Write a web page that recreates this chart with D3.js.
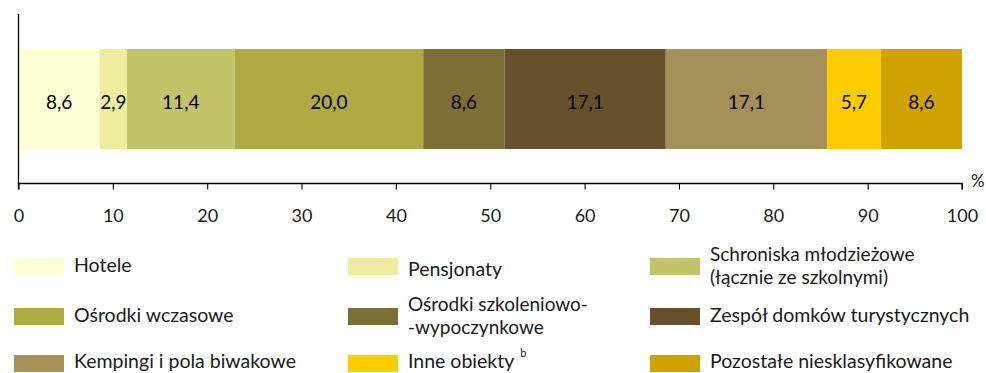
<!DOCTYPE html>
<html>
<head>
<meta charset="utf-8">
<script src="https://cdn.jsdelivr.net/npm/d3@7/dist/d3.min.js"></script>
<style>
  html, body { margin: 0; padding: 0; background: #fff; }
  svg { display: block; }
  text { font-family: Lato, "Open Sans", sans-serif; fill: #1a1a1a; }
</style>
</head>
<body>
<div id="chart"></div>
<script>
// Accommodation structure by type of establishment (%)
const categories = [
  "Hotele",
  "Pensjonaty",
  "Schroniska młodzieżowe (łącznie ze szkolnymi)",
  "Ośrodki wczasowe",
  "Ośrodki szkoleniowo- -wypoczynkowe",
  "Zespół domków turystycznych",
  "Kempingi i pola biwakowe",
  "Inne obiekty",
  "Pozostałe niesklasyfikowane"
];
const shares = [8.6, 2.9, 11.4, 20.0, 8.6, 17.1, 17.1, 5.7, 8.6];
const colors = ["#ffffd5", "#f0ec9e", "#c3c36a", "#aeaa44", "#7c6f33", "#67512a", "#a58f5a", "#ffcc00", "#d1a300"];
const tickValues = [0, 10, 20, 30, 40, 50, 60, 70, 80, 90, 100];
// Legend text split into lines, and superscript notes
const legendLines = [
  ["Hotele"],
  ["Pensjonaty"],
  ["Schroniska młodzieżowe", "(łącznie ze szkolnymi)"],
  ["Ośrodki wczasowe"],
  ["Ośrodki szkoleniowo-", "-wypoczynkowe"],
  ["Zespół domków turystycznych"],
  ["Kempingi i pola biwakowe"],
  ["Inne obiekty"],
  ["Pozostałe niesklasyfikowane"]
];
const legendNotes = ["", "", "", "", "", "", "", "b", ""];

const W = 986, H = 373;
const svg = d3.select("#chart").append("svg").attr("width", W).attr("height", H);

const x = d3.scaleLinear().domain([0, 100]).range([18.5, 962]);
const barTop = 49, barH = 100;

// stacked segments
let acc = 0;
const segs = shares.map((v, i) => {
  const s = { i, v, x0: acc, x1: acc + v };
  acc += v;
  return s;
});

svg.append("g").selectAll("rect").data(segs).join("rect")
  .attr("x", d => x(d.x0))
  .attr("width", d => x(d.x1) - x(d.x0))
  .attr("y", barTop)
  .attr("height", barH)
  .attr("fill", d => colors[d.i]);

svg.append("g").selectAll("text").data(segs).join("text")
  .attr("x", d => (x(d.x0) + x(d.x1)) / 2)
  .attr("y", barTop + 60)
  .attr("text-anchor", "middle")
  .style("font-size", "19px")
  .style("fill", "#000")
  .text(d => d.v.toFixed(1).replace(".", ","));

// vertical axis line
svg.append("line")
  .attr("x1", x(0)).attr("x2", x(0))
  .attr("y1", 14).attr("y2", 184)
  .attr("stroke", "#000").attr("stroke-width", 1.3);

// horizontal axis
const axis = d3.axisBottom(x).tickValues(tickValues).tickSize(6).tickPadding(20).tickFormat(d3.format("d"));
const gx = svg.append("g").attr("transform", "translate(0,183.5)").call(axis);
gx.select(".domain").attr("stroke", "#000").attr("stroke-width", 1.3).attr("d", `M${x(0)},6V0H${x(100)}V6`);
gx.selectAll(".tick line").attr("stroke", "#000").attr("stroke-width", 1.1);
gx.selectAll(".tick text")
  .style("font-family", "Lato, sans-serif")
  .style("font-size", "18px")
  .attr("fill", "#1a1a1a");

svg.append("text")
  .attr("x", 971).attr("y", 187)
  .style("font-size", "17px")
  .text("%");

// legend: 3 columns x 3 rows
const colX = [14, 348, 650];
const swatchY = [258, 308, 355];
const baseY = [272, 322, 368];
const leg = svg.append("g");
categories.forEach((c, i) => {
  const col = i % 3, row = Math.floor(i / 3);
  leg.append("rect")
    .attr("x", colX[col]).attr("y", swatchY[row])
    .attr("width", 50).attr("height", 17)
    .attr("fill", colors[i]);
  const lines = legendLines[i];
  if (lines.length === 1) {
    const t = leg.append("text")
      .attr("x", colX[col] + 60)
      .attr("y", baseY[row] + (col === 1 && row === 0 ? 4 : 0))
      .style("font-size", "19.5px")
      .text(lines[0]);
    if (legendNotes[i]) {
      t.append("tspan").attr("dx", 6).attr("dy", -11)
        .style("font-size", "11px").text(legendNotes[i]);
    }
  } else {
    // each line is its own text element
    lines.forEach((ln, k) => {
      leg.append("text")
        .attr("x", colX[col] + 60)
        .attr("y", baseY[row] - 11 + k * 23)
        .style("font-size", "19px")
        .text(ln);
    });
  }
});
</script>
</body>
</html>
